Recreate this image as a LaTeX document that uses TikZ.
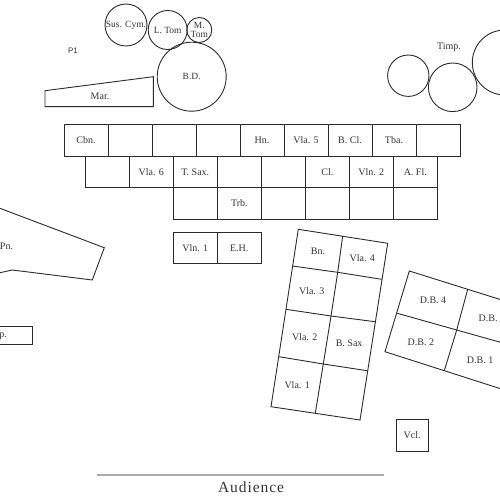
\documentclass[tikz,border=0pt]{standalone}
\usepackage{fontspec}
\setmainfont{Liberation Serif}
\setsansfont{Liberation Sans}
\newfontfamily\audfont[LetterSpace=6]{Liberation Serif}
\usepackage{xcolor}
\definecolor{inkline}{HTML}{2B2B2B}
\definecolor{inktext}{HTML}{333333}
\definecolor{audline}{HTML}{ABABAB}
\usetikzlibrary{positioning, calc}

\begin{document}
\begin{tikzpicture}[
        x=1pt, y=-1pt,
        line width=0.9pt,
        seat/.style={
            rectangle,
            draw=inkline,
            inner sep=0pt,
            outer sep=0pt,
            minimum width=44pt,
            minimum height=31.5pt,
            text=inktext,
            font=\fontsize{10}{12}\selectfont
        },
        drum/.style={
            circle,
            draw=inkline,
            inner sep=0pt,
            outer sep=0pt,
            align=center,
            text=inktext,
            font=\fontsize{9.5}{8.5}\selectfont
        },
        lbl/.style={
            inner sep=0pt,
            text=inktext,
            font=\fontsize{10}{12}\selectfont
        }
    ]
    \useasboundingbox (0,0) rectangle (500,500);
    \clip (0,0) rectangle (500,500);

    % Percussion 1
    \node[drum, minimum size=42pt] (suscym) at (126,25) {Sus. Cym.};
    \node[drum, minimum size=39pt] (ltom) at (167.7,30) {L. Tom};
    \node[drum, minimum size=25pt] (mtom) at (199.3,30) {M.\\Tom};
    \node[drum, minimum size=69pt] (bd) at (191.7,76.7) {B.D.};
    \node[lbl, font=\sffamily\fontsize{8}{9}\selectfont] (p1) at (73,51) {P1};
    \draw[inkline] (45,90.7) -- (153.3,76.7) -- (153.3,106.7) -- (45,106.7) -- cycle;
    \node[lbl] (mar) at (100,96.7) {Mar.};

    % Timpani
    \node[drum, minimum size=41.4pt] (timp1) at (408.3,75.7) {};
    \node[drum, minimum size=48.6pt] (timp2) at (452.7,87.3) {};
    \node[drum, minimum size=65pt] (timp3) at (504.8,62.5) {};
    \node[lbl] (timp) at (449,47) {Timp.};

    % Rows of seats
    \foreach \lab [count=\i] in {Cbn.,{},{},{},Hn.,Vla. 5,B. Cl.,Tba.,{}}
        \node[seat] (a\i) at ({42+44*\i},140.5) {\lab};
    \foreach \lab [count=\i] in {{},Vla. 6,T. Sax.,{},{},Cl.,Vln. 2,A. Fl.}
        \node[seat] (b\i) at ({63.3+44*\i},171.9) {\lab};
    \foreach \lab [count=\i] in {{},Trb.,{},{},{},{}}
        \node[seat] (c\i) at ({151.3+44*\i},203.4) {\lab};

    \node[seat, minimum height=31pt] (vln1) at (195.3,247.8) {Vln. 1};
    \node[seat, minimum height=31pt, right=0pt of vln1] (eh) {E.H.};

    % Piano and harp
    \draw[inkline] (-20,200.8) -- (104.3,247.7) -- (92.3,280) -- (12.3,270) -- (-20,277.1);
    \node[lbl] (pn) at (6.5,246.7) {Pn.};
    \node[seat, minimum width=72.3pt, minimum height=17.3pt, anchor=north west] (hpbox) at (-40,326.7) {};
    \node[lbl] (hp) at (-0.6,335.3) {Hp.};

    % Viola block
    \coordinate (va0) at (298.3,229.3);
    \coordinate (va1) at (292.3,266);
    \coordinate (va2) at (286,309.3);
    \coordinate (va3) at (279,356.7);
    \coordinate (va4) at (271,406.7);
    \coordinate (vb0) at (342.7,236);
    \coordinate (vb1) at (337.7,272.3);
    \coordinate (vb2) at (331,316);
    \coordinate (vb3) at (323.3,364);
    \coordinate (vb4) at (315.3,413.3);
    \coordinate (vc0) at (387.7,243.3);
    \coordinate (vc1) at (381.7,279.3);
    \coordinate (vc2) at (375,321.7);
    \coordinate (vc3) at (367.3,370.7);
    \coordinate (vc4) at (360,420);
    \draw[inkline] (va0) -- (vc0) -- (vc4) -- (va4) -- cycle;
    \draw[inkline] (vb0) -- (vb1) -- (vb2) -- (vb3) -- (vb4);
    \foreach \k in {1,2,3}
        \draw[inkline] (va\k) -- (vb\k) -- (vc\k);
    \node[lbl] (bn) at ($(va0)!.5!(vb1)$) {Bn.};
    \node[lbl] (vla4) at ($(vb0)!.5!(vc1)$) {Vla. 4};
    \node[lbl] (vla3) at ($(va1)!.5!(vb2)$) {Vla. 3};
    \node[lbl] (vla2) at ($(va2)!.5!(vb3)$) {Vla. 2};
    \node[lbl] (bsax) at ($(vb2)!.5!(vc3)$) {B. Sax};
    \node[lbl] (vla1) at ($(va3)!.5!(vb4)$) {Vla. 1};

    % Double basses
    \coordinate (da0) at (409.3,271);
    \coordinate (da1) at (397.3,313.3);
    \coordinate (da2) at (385,351.7);
    \coordinate (db0) at (467.7,289.3);
    \coordinate (db1) at (456.7,330);
    \coordinate (db2) at (444.3,370.7);
    \coordinate (dc0) at (526.1,307.6);
    \coordinate (dc1) at (516.1,346.7);
    \coordinate (dc2) at (503.6,389.7);
    \draw[inkline] (da0) -- (dc0) -- (dc2) -- (da2) -- cycle;
    \draw[inkline] (da1) -- (db1) -- (dc1);
    \draw[inkline] (db0) -- (db1) -- (db2);
    \node[lbl] (db4) at ($(da0)!.5!(db1)$) {D.B. 4};
    \node[lbl] (db3) at ($(db0)!.5!(dc1)$) {D.B. 3};
    \node[lbl] (dbtwo) at ($(da1)!.5!(db2)$) {D.B. 2};
    \node[lbl] (dbone) at ($(db1)!.5!(dc2)$) {D.B. 1};

    % Cello
    \node[seat, minimum width=32.5pt, minimum height=32pt] (vcl) at (412.2,435) {Vcl.};

    % Audience
    \coordinate (audl) at (96.7,475);
    \coordinate (audr) at (384,475);
    \draw[audline, line width=1.2pt] (audl) -- (audr);
    \node[lbl, font=\audfont\fontsize{15.5}{18}\selectfont] (aud) at (251,487.5) {Audience};

\end{tikzpicture}
\end{document}
